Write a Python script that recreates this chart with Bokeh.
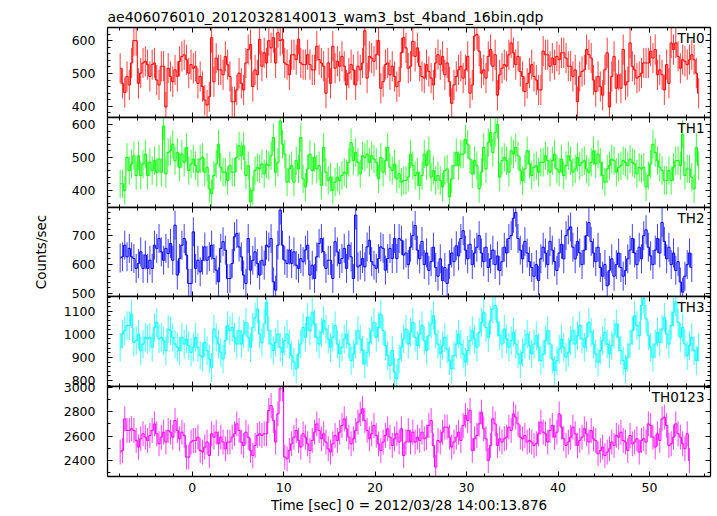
import numpy as np
from bokeh.plotting import figure
from bokeh.layouts import column
from bokeh.models import Range1d, LinearAxis, FixedTicker, Label
from bokeh.embed import file_html
from bokeh.resources import INLINE

TITLE = "ae406076010_20120328140013_wam3_bst_4band_16bin.qdp"
X_LABEL = "Time [sec] 0 = 2012/03/28 14:00:13.876"
Y_LABEL = "Counts/sec"
T_START = -8.0     # start of first time bin (s)
BIN = 0.25         # bin width (s)

TH0 = [516,470,442, 491,465,532, 600,600,470, 501,532,537, 527,491,527, 532,480,465,
       522,522,398, 516,491,475, 511,491,537, 552,557,542, 501,527, 516,522,470,
       491,460,419, 404,429,609, 475,547,511, 511,496, 552,527,491, 414,414,450,
       501,470,450, 532,573,588, 460,511,496, 604,522,563, 532,600,578, 609,532,624,
       600,604,532, 527,496,557, 557,542,604, 532,527,527, 557,527,511, 511,583,542,
       532,522, 440,532,470, 583,516,537, 522,552,522, 465,501,527, 511,465,522,
       511,532,630, 486,552,547, 537,557,600, 455,475,527, 532,496,522, 491,460,475,
       563,609,578, 516,522,
       598,552,578, 522,491,486, 527,506,486, 465,532,557, 527,552,496, 532,475,409,
       465,491,511, 522,486,511, 552,440,465, 614,619,568, 501,511,486, 552,573,522,
       557,434,496, 516,527,522, 557,593,563, 527,552,506, 491,445,470, 501,527,491,
       480,450,450, 568,557,557, 522,547,527, 552,542,563, 563,547,522, 522,491,511,
       414,491,506, 511,573,557, 547,480,445, 491,460,434, 511,563,398, 491,552,455,
       496,455,573, 465,475,593, 522,511,486, 491,501,532, 532,532,568, 547,573,496,
       511,496,450, 527,470,593, 573,593,552, 516,542,537, 527,542,557, 542,501,440]

TH1 = [420,420,400,500,460,480,505,445,505,445, 480,510,445,485,460,490,455,495,455,595,
       450,515,520,540,490,515,470,510,485,530, 460,480,495,475,455,495,500,455,470,405,
       390,445,480,540,470,455,455,430,475,455,455, 500,535,505,535,445,475,365,400,460,470,
       465,480,450,480,475,505,560,455,485,610, 540,510,425,465,475,425,490,465,560,435,
       410,465,510,460,500,465,475,415,530,455, 430,440,400,425,440,430,445,455,450,485,
       545,490,515,485,450,505,500,510,485,505, 495,485,435,500,455,490,530,470,460,480,
       435,450,425,430,430,
       440,510,475,445,455,415,445,510,475,520, 440,460,430,445,430,410,460,465,380,435,
       475,515,475,510,510,555,540,495,450,490,475, 405,455,530,465,545,575,515,575,600,440,
       490,500,490,455,520,510,530,505,460,430, 465,520,480,445,470,475,455,485,485,505,490,
       455,490,510,465,455,495,445,475,505,490, 455,465,500,475,485,490,465,455,485,520,
       480,510,485,445,425,465,475,495,490,455,470, 475,490,485,475,495,485,480,450,470,465,
       470,410,445,480,540,515,490,470,460,430, 430,460,430,470,490,490,475,570,445,465,465,
       440,405,530,475]

TH2 = [623,627,667,627,656,627,621,587,604,644, 587,633,587,615,587,667,656,690,644,615,
       656,638,673,615,736,564,621,667,690,633, 535,535,713,587,615,575,615,661,615,627,
       667,621,581,541,656,679,650,552,552,604, 696,707,661,627,564,535,690,581,615,644,
       604,564,615,598,667,661,690,541,512,667, 788,667,615,604,650,604,644,598,587,621,
       610,650,667,564,598,552,627,673,690,644, 587,615,615,552,679,644,604,621,656,587,
       667,627,552,771,592,598,621,592,661,684, 610,598,587,621,661,656,581,621,656,621,
       690,621,690,684,633,
       640,600,660,700,735,650,620,680, 600,640,580,610,660,590,560,620,
       545,590,535,600,640,610,665,630, 690,717,650,620,670,600,640,660,
       700,640,610,660,590,620,650,600, 630,580,610,660,640,690,700,760,
       780,690,650,620,680,640,610,590, 560,600,545,620,660,640,600,680,
       650,610,580,640,670,620,700,720, 730,660,620,680,640,600,650,700,
       745,680,640,610,660,590,560,600, 527,580,620,560,600,640,590,560,
       580,620,650,690,640,600,660,620, 700,720,660,630,600,650,690,640,
       745,680,620,660,600,640,580,610, 540,505,560,600,640,590]

TH3 = [944,1001,1016,1038,1038,1088,965,973,1001,929, 958,987,980,987,944,1030,1052,980,987,973,
       929,1023,1016,987,958,944,929,987,958,980, 951,922,944,987,944,908,901,965,929,893,
       857,1023,987,958,922,893,973,1038,1016,1030, 987,958,
       1016,958,1001,1052,987,944,1030,1074, 1110,1001,965,1045,1140,1016,958,930,
       965,1001,944,922,973,1001,958,908, 879,850,915,958,1030,987,1074,1016,
       1096,1045,987,958,1009,1060,1023,980, 944,987,1038,958,915,944,980,1001,
       958,886,915,958,1016,980,930,872, 922,965,1016,1052,987,1030,1088,1016,
       951,908,865,930,836,808,893,944, 980,1023,958,1009,1052,987,951,1001,
       1038,973,930,994,1045,1081,1001,958, 915,951,987,936,886,850,908,958,
       1001,958,915,879,930,973,1016,980, 944,1009,1052,1096,1030,987,1060,1110,
       1125,1052,994,958,1023,980,944,973, 1009,958,915,872,922,958,1001,951,
       915,958,994,944,886,915,973,1016, 958,893,843,886,936,980,944,901,
       922,973,1016,958,994,1038,980,944, 987,1052,1009,958,915,879,930,973,
       1009,958,915,951,1001,1045,987,930, 886,850,901,958,1016,1081,1038,994,
       1125,1155,1067,994,944,901,958,1009, 965,1023,1074,1001,958,1038,1096,1140,
       1052,987,1030,958,908,951,987,930,886,944]

TH0123 = [2469,2482,2741,2646,2646,2660,2646,2564,2510,2578, 2619,2591,2564,2605,2646,2700,2619,2537,2591,2632,
          2551,2646,2632,2591,2728,2646,2578,2632,2605,2428, 2428,2551,2564,2564,2591,2482,2469,2510,2551,2441,
          2619,2591,2632,2537,2591,2551,2496,2551,2551,2591, 2619,2700,2646,2551,2523,2632,2591,2482,2441,2523,
          2605,2619,2605,2619,2619,2810,2850,2728,2551,2782, 2987,2987,2428,2414,
          2482,2537,2591,2646,2564,2510,2619,2591, 2537,2482,2564,2632,2700,2646,2578,2619,
          2551,2496,2469,2537,2605,2564,2632,2687, 2741,2660,2591,2537,2578,2646,2714,2782,
          2823,2728,2646,2578,2619,2687,2605,2537, 2482,2551,2605,2660,2591,2523,2578,2619,
          2551,2660,2441,2551,2646,2551,2632,2551,2591,2564, 2632,2578,2591,2687,2728,2523,2346,2564,2551,2632,
          2673,2673,2591,2510,2551,2591,2632,2564,2687,2769, 2728,2810,2482,2578,2605,2700,2796,2660,2578,2400,
          2523,2741,2700,2523,2578,2551,2578,2591,2673,2646, 2782,2755,2700,2591,2578,2605,2551,2564,2551,2523,
          2537,2619,2714,2632,2619,2551,2646,2687,2591,2632, 2782,2673,2578,2523,2551,2591,2673,2619,2523,2564,
          2591,2660,2619,2551,2646,2578,2564,2455,2482,2510, 2441,2469,2496,2551,2523,2605,2591,2632,2564,2551,
          2482,2605,2537,2551,2578,2469,2564,2578,2551,2700, 2687,2591,2510,2619,2564,2741,2755,2687,2523,2537,
          2591,2700,2619,2591,2537,2496,2619,2400]

PANELS = ["TH0", "TH1", "TH2", "TH3", "TH0123"]
SERIES = [TH0, TH1, TH2, TH3, TH0123]
ERRS = [46, 43, 50, 62, 102]
COLORS = ["#ff0000", "#00ff00", "#0000ff", "#00ffff", "#ff00ff"]
YRANGES = [(366, 640), (348, 621), (490, 797), (774, 1164), (2269, 3006)]
Y_MAJOR = [[400, 500, 600], [400, 500, 600], [500, 600, 700],
           [800, 900, 1000, 1100], [2400, 2600, 2800, 3000]]
Y_MINOR_STEP = [20, 20, 20, 20, 100]
X_RANGE = (-9.26, 56.67)
X_MAJOR = [0, 10, 20, 30, 40, 50]
X_MINOR_STEP = 2

FONT = "DejaVu Sans"
FRAME_H = [90, 90, 89, 90, 90]
FRAME_W = 603
LEFT_B = 107
RIGHT_B = 4
TOP_B = 27
PAD = 12


def steps(lo, hi, step):
    start = np.ceil(lo / step) * step
    return [float(v) for v in np.arange(start, hi + 1e-9, step)]


def style_axis(ax, labels):
    ax.axis_line_color = "black"
    ax.axis_line_width = 1.3
    ax.major_tick_in = 5
    ax.major_tick_out = 0
    ax.minor_tick_in = 3
    ax.minor_tick_out = 0
    ax.major_tick_line_color = "black"
    ax.minor_tick_line_color = "black"
    if labels:
        ax.major_label_text_font = FONT
        ax.major_label_text_font_size = "12.5px"
        ax.major_label_text_color = "black"
    else:
        ax.major_label_text_font_size = "0px"
        ax.major_label_text_color = None
        ax.major_label_standoff = 0


xr = Range1d(X_RANGE[0], X_RANGE[1])
x_ticker = FixedTicker(ticks=X_MAJOR, minor_ticks=steps(X_RANGE[0], X_RANGE[1], X_MINOR_STEP))

figs = []
for k, name in enumerate(PANELS):
    vals = np.array(SERIES[k], dtype=float)
    t = T_START + BIN * (np.arange(len(vals)) + 0.5)
    top = TOP_B if k == 0 else PAD
    bot = 0 if k == 4 else PAD
    p = figure(frame_width=FRAME_W, frame_height=FRAME_H[k], x_range=xr,
               y_range=Range1d(YRANGES[k][0], YRANGES[k][1]),
               output_backend="svg", toolbar_location=None,
               x_axis_location=None, y_axis_location=None,
               min_border_left=LEFT_B, min_border_right=RIGHT_B,
               min_border_top=top, min_border_bottom=bot,
               title=TITLE if k == 0 else None)
    if k > 0:
        p.margin = (-2 * PAD, 0, 0, 0)
    p.grid.visible = False
    p.outline_line_color = None
    p.background_fill_color = "white"
    p.border_fill_alpha = 0

    y_ticker = FixedTicker(ticks=Y_MAJOR[k],
                           minor_ticks=steps(YRANGES[k][0], YRANGES[k][1], Y_MINOR_STEP[k]))

    left = LinearAxis(ticker=y_ticker)
    style_axis(left, True)
    left.major_label_standoff = 12
    if k == 2:
        left.axis_label = Y_LABEL
        left.axis_label_text_font = FONT
        left.axis_label_text_font_size = "13.5px"
        left.axis_label_text_font_style = "normal"
        left.axis_label_text_color = "black"
        left.axis_label_standoff = 20
    p.add_layout(left, "left")

    right = LinearAxis(ticker=y_ticker)
    style_axis(right, False)
    p.add_layout(right, "right")

    topax = LinearAxis(ticker=x_ticker)
    style_axis(topax, False)
    p.add_layout(topax, "above")

    below = LinearAxis(ticker=x_ticker)
    if k == 4:
        style_axis(below, True)
        below.major_label_standoff = 6
        below.axis_label = X_LABEL
        below.axis_label_text_font = FONT
        below.axis_label_text_font_size = "13.5px"
        below.axis_label_text_font_style = "normal"
        below.axis_label_text_color = "black"
        below.axis_label_standoff = 2
    else:
        style_axis(below, False)
    p.add_layout(below, "below")

    if k == 0:
        p.title.text_font = FONT
        p.title.text_font_size = "14px"
        p.title.text_font_style = "normal"
        p.title.text_color = "black"
        p.title.align = "left"
        p.title.offset = 0
        p.title.standoff = 6

    err = ERRS[k]
    p.segment(x0=t, y0=vals - err, x1=t, y1=vals + err, line_color=COLORS[k],
              line_width=1, line_alpha=0.75)
    p.step(x=t, y=vals, mode="center", line_color=COLORS[k], line_width=1)

    p.add_layout(Label(x=X_RANGE[1], y=YRANGES[k][1], x_offset=-6, y_offset=-2,
                       text=name, text_align="right", text_baseline="top",
                       text_font=FONT, text_font_size="13.5px", text_color="black"))
    figs.append(p)

layout = column(*figs, spacing=0)
open("out.html", "w").write(file_html(layout, INLINE))
